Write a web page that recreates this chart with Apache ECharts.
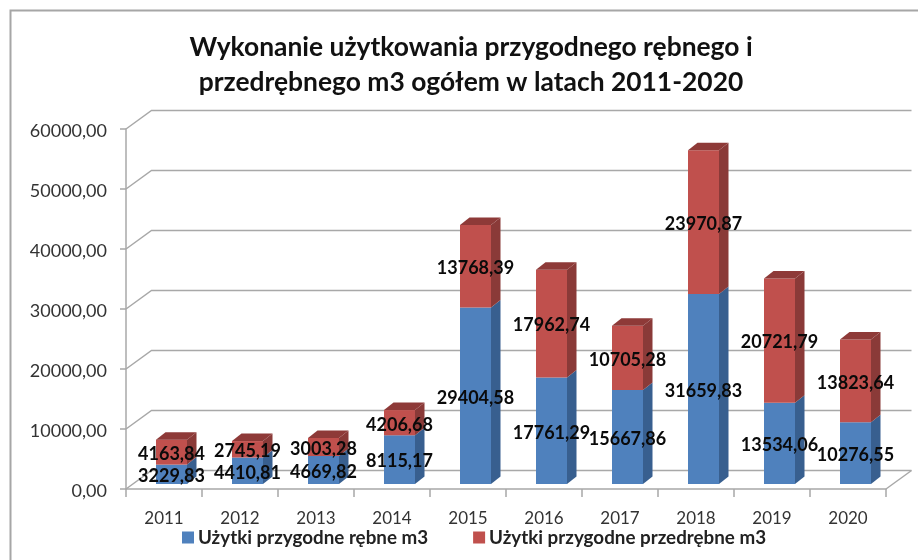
<!DOCTYPE html>
<html><head><meta charset="utf-8">
<style>html,body{margin:0;padding:0;background:#fff}#c{width:918px;height:560px}</style>
<script src="https://cdn.jsdelivr.net/npm/echarts@6/dist/echarts.min.js"></script>
</head><body><div id="c"></div>
<script>
const years = ['2011','2012','2013','2014','2015','2016','2017','2018','2019','2020'];
const rebne = [3229.83,4410.81,4669.82,8115.17,29404.58,17761.29,15667.86,31659.83,13534.06,10276.55];
const przedrebne = [4163.84,2745.19,3003.28,4206.68,13768.39,17962.74,10705.28,23970.87,20721.79,13823.64];
const yTicks = [0,10000,20000,30000,40000,50000,60000];
const nameRebne = 'Użytki przygodne rębne m3';
const namePrzed = 'Użytki przygodne przedrębne m3';
const titleText = 'Wykonanie użytkowania przygodnego rębnego i\nprzedrębnego m3 ogółem w latach 2011-2020';

const FONT = 'Lato, "Open Sans", sans-serif';
const GRAY = '#a8a8a8';
const wall = {dx:25.5, dy:-18.5};
const bar = {shift:7.5, width:31, raise:5, dx:9.5, dy:-7.5};
const fmt = v => v.toFixed(2).replace('.',',');

function prism(front, side, top){
  return function(params, api){
    const i = api.value(0), lo = api.value(1), hi = api.value(2);
    const pl = api.coord([i, lo]), ph = api.coord([i, hi]);
    const xl = pl[0] + bar.shift - bar.width/2, xr = xl + bar.width;
    const yb = pl[1] - bar.raise, yt = ph[1] - bar.raise;
    const kids = [
      {type:'polygon', shape:{points:[[xr,yb],[xr+bar.dx,yb+bar.dy],[xr+bar.dx,yt+bar.dy],[xr,yt]]}, style:{fill:side}},
      {type:'rect', shape:{x:xl,y:yt,width:bar.width,height:yb-yt}, style:{fill:front}}
    ];
    if(top) kids.push({type:'polygon', shape:{points:[[xl,yt],[xl+bar.dx,yt+bar.dy],[xr+bar.dx,yt+bar.dy],[xr,yt]]}, style:{fill:top}});
    return {type:'group', children:kids};
  };
}
function labelItem(params, api){
  const p = api.coord([api.value(0), (api.value(1)+api.value(2))/2]);
  return {type:'text', x:p[0]+bar.shift, y:p[1]-bar.raise+2,
    style:{text:fmt(api.value(2)-api.value(1)), align:'center', verticalAlign:'middle',
      font:'bold 18px '+FONT, fill:'#0a0a0a'}};
}
function wallItem(params, api){
  const t = api.value(1);
  const p = api.coord([0,t]), band = api.size([1,0])[0];
  const x0 = p[0]-band/2, xEnd = x0 + band*years.length + wall.dx;
  const kids = [{type:'polyline', shape:{points:[[x0,p[1]],[x0+wall.dx,p[1]+wall.dy],[xEnd,p[1]+wall.dy]]},
    style:{stroke:GRAY, lineWidth:1.5, fill:null}}];
  if(t===0) kids.push({type:'line', shape:{x1:xEnd-wall.dx,y1:p[1],x2:xEnd,y2:p[1]+wall.dy},
    style:{stroke:GRAY, lineWidth:1.5}});
  return {type:'group', children:kids};
}
const blueData = years.map((y,i)=>[i,0,rebne[i]]);
const redData = years.map((y,i)=>[i,rebne[i],rebne[i]+przedrebne[i]]);

const chart = echarts.init(document.getElementById('c'), null, {renderer:'canvas'});
chart.setOption({
  animation:false,
  backgroundColor:'#fff',
  title:{text:titleText, left:466, top:25, textAlign:'center',
    textStyle:{fontFamily:FONT, fontWeight:'bold', fontSize:26.4, lineHeight:35, color:'#111'}},
  legend:{data:[nameRebne,namePrzed], left:177, top:523, icon:'rect', itemWidth:12, itemHeight:12, itemGap:45,
    selectedMode:false,
    textStyle:{fontFamily:FONT, fontWeight:'bold', fontSize:18.8, color:'#222', padding:[0,0,0,-1]}},
  grid:{left:126, right:32, top:129, bottom:71, containLabel:false},
  xAxis:{type:'category', data:years,
    axisLine:{show:true, lineStyle:{color:GRAY, width:1.5}},
    axisTick:{show:true, length:8, lineStyle:{color:GRAY, width:1.5}},
    axisLabel:{fontFamily:FONT, fontSize:17, color:'#333', margin:21},
    splitLine:{show:false}},
  yAxis:{type:'value', min:0, max:60000, interval:10000,
    axisLine:{show:true, lineStyle:{color:GRAY, width:1.5}},
    axisTick:{show:true, length:6, lineStyle:{color:GRAY, width:1.5}},
    axisLabel:{fontFamily:FONT, fontSize:18, color:'#333', margin:19, verticalAlign:'top', lineHeight:5, formatter:v=>fmt(v)},
    splitLine:{show:false}},
  graphic:[{type:'polyline', silent:true, z:-1,
    shape:{points:[[10.5,562],[10.5,10.5],[920,10.5]]}, style:{stroke:'#a6a6a6', lineWidth:2, fill:null}}],
  series:[
    {type:'custom', name:'walls', silent:true, z:1, renderItem:wallItem, data:yTicks.map(t=>[0,t]), encode:{x:0,y:1}},
    {type:'custom', name:nameRebne, silent:true, z:2, itemStyle:{color:'#4f81bd'},
      renderItem:prism('#4f81bd','#385f8f',null), data:blueData, encode:{x:0,y:[1,2]}},
    {type:'custom', name:namePrzed, silent:true, z:3, itemStyle:{color:'#c0504d'},
      renderItem:prism('#c0504d','#8a3a38','#8e3a38'), data:redData, encode:{x:0,y:[1,2]}},
    {type:'custom', name:'labelsA', silent:true, z:5, renderItem:labelItem, data:blueData, encode:{x:0,y:[1,2]}},
    {type:'custom', name:'labelsB', silent:true, z:5, renderItem:labelItem, data:redData, encode:{x:0,y:[1,2]}}
  ]
});
</script></body></html>
